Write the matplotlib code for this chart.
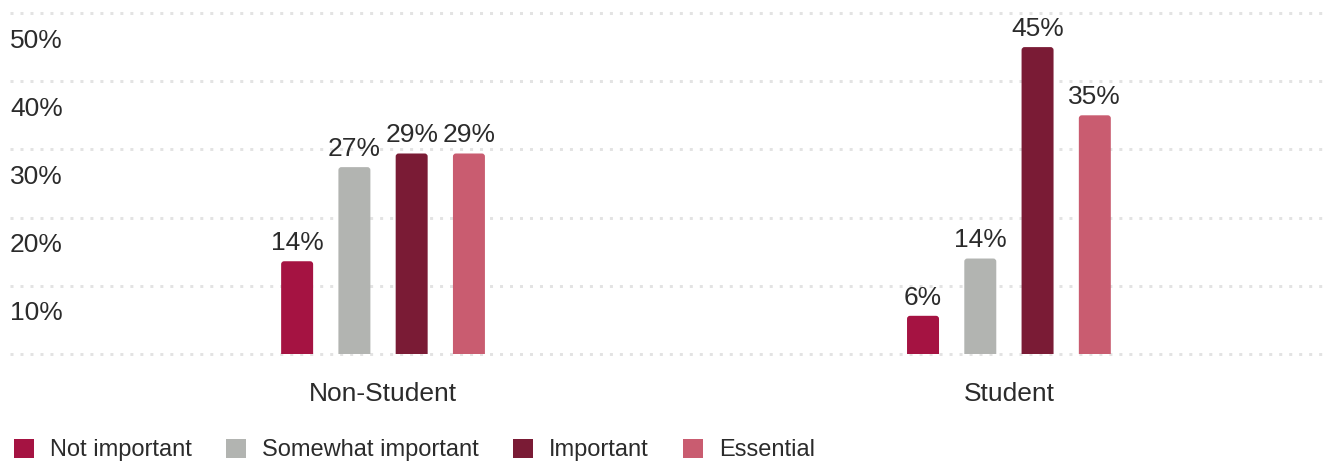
import numpy as np
import matplotlib.pyplot as plt
from matplotlib.patches import FancyBboxPatch, Patch
from matplotlib.transforms import ScaledTranslation

groups = ['Non-Student', 'Student']
series = ['Not important', 'Somewhat important', 'Important', 'Essential']
values = {
    'Not important': [13.6, 5.6],
    'Somewhat important': [27.4, 14.0],
    'Important': [29.4, 45.0],
    'Essential': [29.4, 35.0],
}
colors = ['#A51342', '#B2B4B1', '#7A1B35', '#C95C70']
yticks = [0, 10, 20, 30, 40, 50]
ytick_labels = ['', '10%', '20%', '30%', '40%', '50%']

plt.rcParams['font.family'] = ['Liberation Sans', 'DejaVu Sans']
text_color = '#2b2b2b'

fig = plt.figure(figsize=(13.25, 4.62), dpi=100)
ax = fig.add_axes([10 / 1325, (462 - 354) / 462, 1315 / 1325, 341 / 462])

x = np.arange(len(groups))
step = 0.0915
width = 0.0511
ax.set_xlim(-0.596, 1.505)
ax.set_ylim(0, 50)

# aspect for rounded corners (y units per pixel / x units per pixel)
aspect = (50 / 341) / (2.101 / 1315)
r = 3 * 2.101 / 1315

for i, (name, col) in enumerate(zip(series, colors)):
    pos = x + (i - 1.5) * step
    bars = ax.bar(pos, values[name], width, color=col)
    for rect, v in zip(bars, values[name]):
        bx, bw, bh = rect.get_x(), rect.get_width(), rect.get_height()
        rect.remove()
        ax.add_patch(FancyBboxPatch((bx, -1), bw, bh + 1,
                                    boxstyle=f'round,pad=0,rounding_size={r}',
                                    mutation_aspect=aspect, fc=col, ec='none'))
        ax.annotate(f'{v:.0f}%', (bx + bw / 2, bh), xytext=(0, 8),
                    textcoords='offset points', ha='center', va='baseline',
                    fontsize=19, color=text_color)

ax.set_yticks(yticks)
ax.set_yticklabels(ytick_labels)
ax.yaxis.grid(True, color='#e3e3e3', linewidth=2.16, linestyle=(0, (1, 2.33)))
for gl in ax.yaxis.get_gridlines():
    gl.set_clip_on(False)
ax.tick_params(axis='y', length=0, pad=0, labelsize=19, labelcolor=text_color)
shift = ScaledTranslation(0, -25 / 100, fig.dpi_scale_trans)
for lab in ax.get_yticklabels():
    lab.set_horizontalalignment('left')
    lab.set_transform(lab.get_transform() + shift)

ax.set_xticks(x)
ax.set_xticklabels(groups)
ax.tick_params(axis='x', length=0, pad=20, labelsize=19, labelcolor=text_color)

for s in ax.spines.values():
    s.set_visible(False)
ax.set_axisbelow(True)

handles = [Patch(facecolor=c, edgecolor='none', label=s) for s, c in zip(series, colors)]
fig.legend(handles=handles, loc='center left', bbox_to_anchor=(14 / 1325, 1 - 450 / 462),
           ncol=4, frameon=False, fontsize=17, labelcolor=text_color,
           handlelength=0.85, handleheight=0.9, handletextpad=0.68,
           columnspacing=1.44, borderpad=0, borderaxespad=0)

fig.savefig('out.png', dpi=100)
